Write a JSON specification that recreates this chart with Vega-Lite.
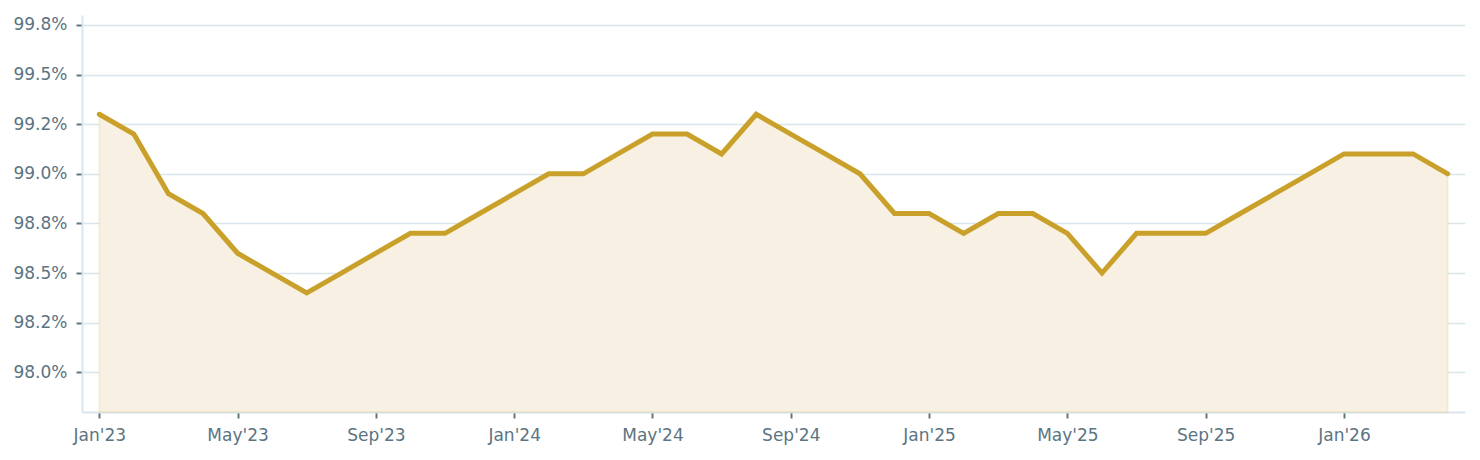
{
  "$schema": "https://vega.github.io/schema/vega-lite/v6.json",
  "width": 1383,
  "height": 397,
  "autosize": {"type": "none"},
  "padding": {"left": 82, "top": 15, "right": 15, "bottom": 48},
  "data": {
    "values": [
      {"month": "Jan'23", "rate": 99.3},
      {"month": "Feb'23", "rate": 99.2},
      {"month": "Mar'23", "rate": 98.9},
      {"month": "Apr'23", "rate": 98.8},
      {"month": "May'23", "rate": 98.6},
      {"month": "Jun'23", "rate": 98.5},
      {"month": "Jul'23", "rate": 98.4},
      {"month": "Aug'23", "rate": 98.5},
      {"month": "Sep'23", "rate": 98.6},
      {"month": "Oct'23", "rate": 98.7},
      {"month": "Nov'23", "rate": 98.7},
      {"month": "Dec'23", "rate": 98.8},
      {"month": "Jan'24", "rate": 98.9},
      {"month": "Feb'24", "rate": 99.0},
      {"month": "Mar'24", "rate": 99.0},
      {"month": "Apr'24", "rate": 99.1},
      {"month": "May'24", "rate": 99.2},
      {"month": "Jun'24", "rate": 99.2},
      {"month": "Jul'24", "rate": 99.1},
      {"month": "Aug'24", "rate": 99.3},
      {"month": "Sep'24", "rate": 99.2},
      {"month": "Oct'24", "rate": 99.1},
      {"month": "Nov'24", "rate": 99.0},
      {"month": "Dec'24", "rate": 98.8},
      {"month": "Jan'25", "rate": 98.8},
      {"month": "Feb'25", "rate": 98.7},
      {"month": "Mar'25", "rate": 98.8},
      {"month": "Apr'25", "rate": 98.8},
      {"month": "May'25", "rate": 98.7},
      {"month": "Jun'25", "rate": 98.5},
      {"month": "Jul'25", "rate": 98.7},
      {"month": "Aug'25", "rate": 98.7},
      {"month": "Sep'25", "rate": 98.7},
      {"month": "Oct'25", "rate": 98.8},
      {"month": "Nov'25", "rate": 98.9},
      {"month": "Dec'25", "rate": 99.0},
      {"month": "Jan'26", "rate": 99.1},
      {"month": "Feb'26", "rate": 99.1},
      {"month": "Mar'26", "rate": 99.1},
      {"month": "Apr'26", "rate": 99.0}
    ]
  },
  "encoding": {
    "x": {
      "field": "month",
      "type": "ordinal",
      "sort": null,
      "scale": {"type": "point", "padding": 0.5},
      "axis": {
        "title": null,
        "labelAngle": 0,
        "values": ["Jan'23", "May'23", "Sep'23", "Jan'24", "May'24", "Sep'24", "Jan'25", "May'25", "Sep'25", "Jan'26"],
        "grid": false,
        "labelPadding": 9
      }
    },
    "y": {
      "field": "rate",
      "type": "quantitative",
      "scale": {"domain": [97.8, 99.8], "nice": false, "zero": false},
      "axis": {
        "title": null,
        "values": [98, 98.25, 98.5, 98.75, 99, 99.25, 99.5, 99.75],
        "labelExpr": "format(datum.value + (datum.value % 1 == 0.25 ? -0.01 : 0.01), '.1f') + '%'",
        "grid": true,
        "labelPadding": 9
      }
    }
  },
  "layer": [
    {
      "mark": {
        "type": "area",
        "fill": "#f8f1e3",
        "stroke": "#c9a02a",
        "strokeOpacity": 0.12,
        "strokeWidth": 2
      },
      "encoding": {"y2": {"datum": 97.8}}
    },
    {
      "mark": {
        "type": "line",
        "color": "#c9a02a",
        "strokeWidth": 5,
        "strokeCap": "round"
      }
    }
  ],
  "config": {
    "view": {"stroke": null},
    "font": "DejaVu Sans",
    "axis": {
      "labelFont": "DejaVu Sans",
      "labelFontSize": 17,
      "labelColor": "#5b7482",
      "tickColor": "#5f7683",
      "tickSize": 6,
      "tickWidth": 2,
      "domainColor": "#dae6ec",
      "domainWidth": 2,
      "gridColor": "#dae6ec",
      "gridWidth": 1.5
    }
  }
}
